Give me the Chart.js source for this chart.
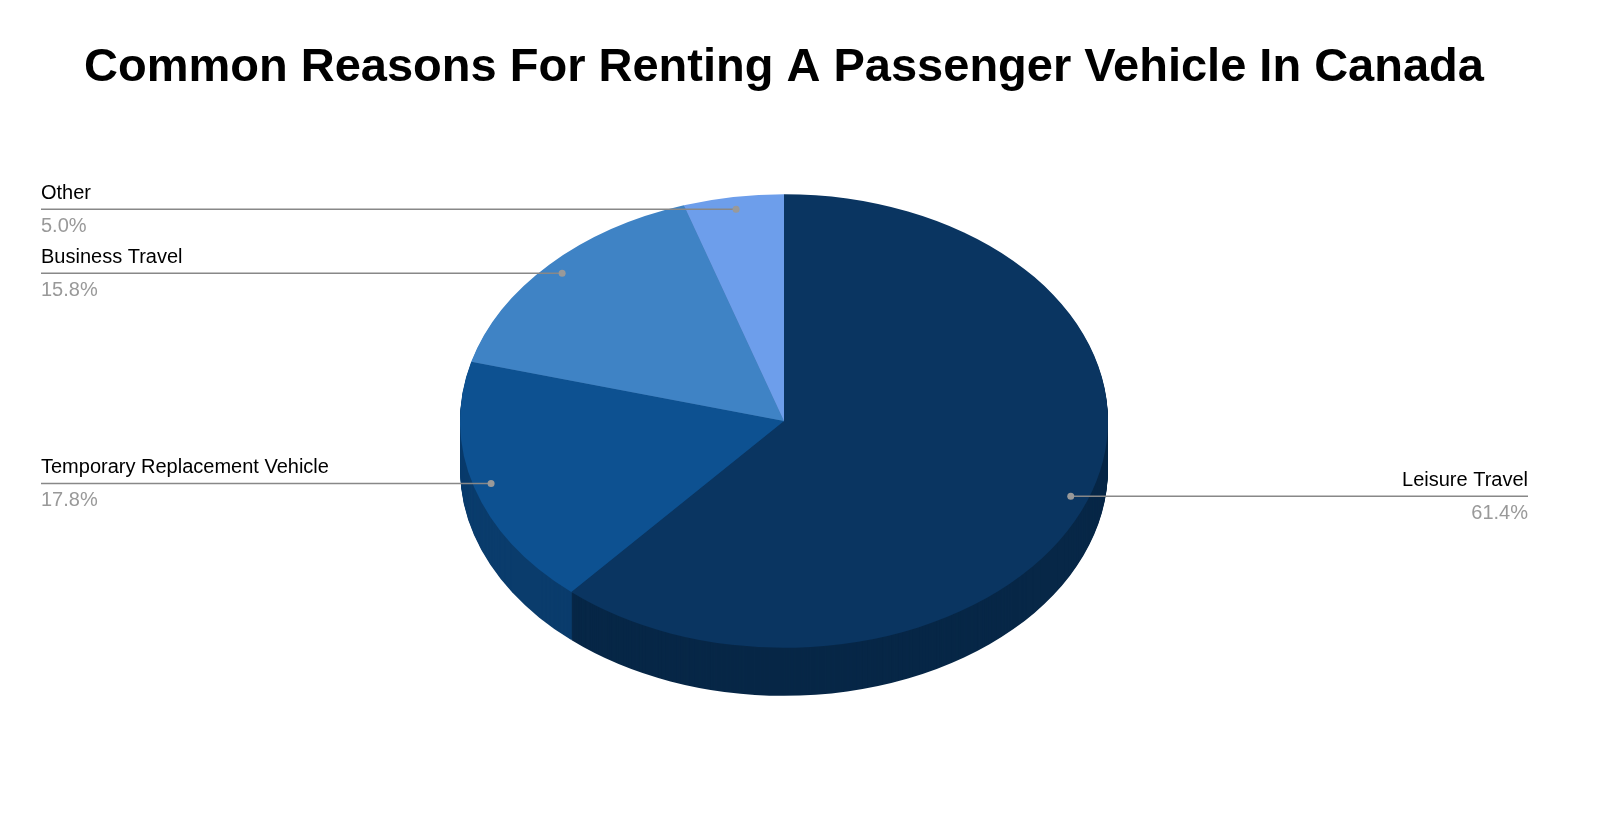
<!DOCTYPE html>
<html><head><meta charset="utf-8">
<script src="https://cdn.jsdelivr.net/npm/chart.js@4"></script>
<style>html,body{margin:0;background:#fff}#c{display:block}</style></head>
<body><div style="width:1604px;height:830px"><canvas id="c"></canvas></div>
<script>
const categories = ["Leisure Travel","Temporary Replacement Vehicle","Business Travel","Other"];
const values = [61.4,17.8,15.8,5.0];
const colors = ["#0a3561","#0d5191","#3f83c5","#6d9eeb"];
const sideColors = ["#072747","#0a3c6c","#2f6296","#5277b0"];
const SY = 0.7, DEPTH = 48;
const fake3d = {
  id:'fake3d',
  beforeDatasetsDraw(chart){
    const ctx = chart.ctx, arcs = chart.getDatasetMeta(0).data;
    const cy = arcs[0].y;
    ctx.save();
    ctx.translate(0,cy); ctx.scale(1,SY); ctx.translate(0,-cy);
    for(let d=DEPTH; d>=1; d--){
      arcs.forEach((a,i)=>{
        ctx.fillStyle = sideColors[i];
        ctx.beginPath(); ctx.moveTo(a.x,a.y+d/SY);
        ctx.arc(a.x,a.y+d/SY,a.outerRadius,a.startAngle,a.endAngle);
        ctx.closePath(); ctx.fill();
      });
    }
  },
  afterDatasetsDraw(chart){
    const ctx = chart.ctx; ctx.restore();
    const arcs = chart.getDatasetMeta(0).data;
    ctx.save();
    ctx.font = 'bold 47px "Liberation Sans", Arial, sans-serif';
    ctx.fillStyle='#000'; ctx.textAlign='center'; ctx.textBaseline='middle';
    ctx.fillText("Common Reasons For Renting A Passenger Vehicle In Canada", 784, 68);
    ctx.font = '20px "Liberation Sans", Arial, sans-serif';
    arcs.forEach((a,i)=>{
      const m = (a.startAngle+a.endAngle)/2, r = a.outerRadius*0.945;
      const px = a.x + r*Math.cos(m), py = a.y + r*Math.sin(m)*SY;
      const right = Math.cos(m) > 0;
      const lx = right ? 1528 : 41;
      ctx.strokeStyle='#888'; ctx.lineWidth=1.5;
      ctx.beginPath(); ctx.moveTo(px,py); ctx.lineTo(lx,py); ctx.stroke();
      ctx.fillStyle='#999'; ctx.beginPath(); ctx.arc(px,py,3.5,0,Math.PI*2); ctx.fill();
      ctx.textAlign = right ? 'right' : 'left';
      ctx.fillStyle='#000'; ctx.fillText(categories[i], lx, py-16);
      ctx.fillStyle='#999'; ctx.fillText(values[i].toFixed(1)+'%', lx, py+17);
    });
    ctx.restore();
  }
};
new Chart(document.getElementById('c'),{
  type:'pie',
  data:{labels:categories,datasets:[{data:values,backgroundColor:colors,borderWidth:0}]},
  options:{responsive:true,maintainAspectRatio:false,animation:false,
    layout:{padding:{top:97,bottom:85,left:0,right:36}},
    plugins:{legend:{display:false},tooltip:{enabled:false}}},
  plugins:[fake3d]
});
</script></body></html>
